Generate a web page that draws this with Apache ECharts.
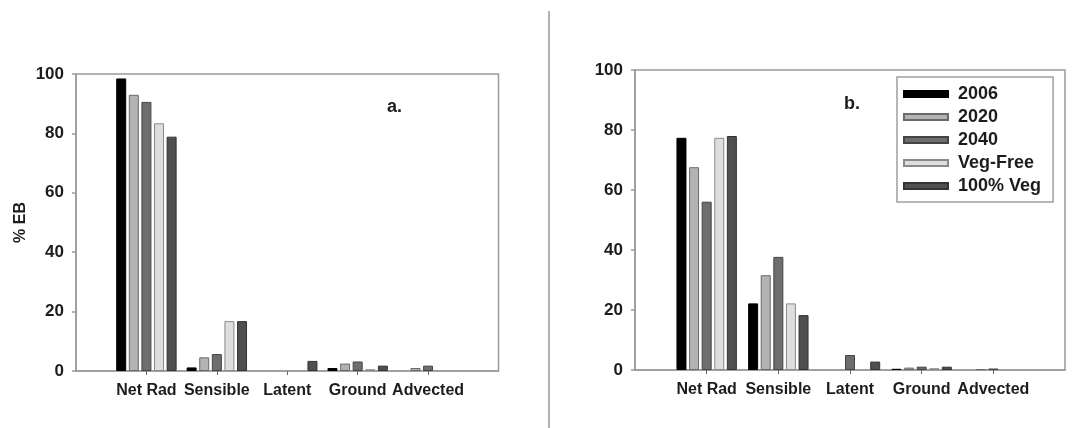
<!DOCTYPE html>
<html>
<head>
<meta charset="utf-8">
<title>Energy balance components</title>
<script src="https://cdn.jsdelivr.net/npm/echarts@6/dist/echarts.min.js"></script>
<style>
  html, body { margin: 0; padding: 0; background: #ffffff; }
  #chart { width: 1092px; height: 428px; }
</style>
</head>
<body>
<div id="chart"></div>
<script>
// Energy balance terms shown on the x axis
const categories = ['Net Rad', 'Sensible', 'Latent', 'Ground', 'Advected'];
// Scenario names (legend order)
const scenarios = ['2006', '2020', '2040', 'Veg-Free', '100% Veg'];
// Y axis ticks
const yTicks = [0, 20, 40, 60, 80, 100];

// Panel a: % of energy balance per term, one array per scenario
const a2006    = [98.5, 1.2, 0.0, 1.0, 0.0];
const a2020    = [93.0, 4.6, 0.0, 2.5, 1.0];
const a2040    = [90.6, 5.7, 0.0, 3.2, 1.8];
const aVegFree = [83.4, 16.8, 0.0, 0.6, 0.0];
const aVeg100  = [78.9, 16.8, 3.4, 1.8, 0.0];

// Panel b
const b2006    = [77.4, 22.2, 0.0, 0.4, 0.0];
const b2020    = [67.6, 31.6, 0.0, 0.8, 0.3];
const b2040    = [56.1, 37.7, 5.0, 1.1, 0.5];
const bVegFree = [77.4, 22.2, 0.0, 0.6, 0.0];
const bVeg100  = [78.0, 18.3, 2.8, 1.1, 0.0];

const panelA = [a2006, a2020, a2040, aVegFree, aVeg100];
const panelB = [b2006, b2020, b2040, bVegFree, bVeg100];

const fills = ['#000000', '#b3b3b3', '#6e6e6e', '#dedede', '#4f4f4f'];
const borders = ['#000000', '#6a6a6a', '#444444', '#8a8a8a', '#333333'];

// Category slots run from 0 to 6 with the terms at 1..5;
// zero-height bars are left empty so no outline is drawn for them
const slots = [''].concat(categories, ['']);
const pad = arr => [null].concat(arr.map(v => (v === 0 ? null : v)), [null]);

const axisGray = '#9a9a9a';
const textColor = '#1c1c1c';
const fontFamily = '"Liberation Sans", Arial, sans-serif';

function xAxisFor(gridIndex) {
  return {
    type: 'category',
    gridIndex,
    data: slots,
    boundaryGap: false,
    axisLine: { lineStyle: { color: axisGray, width: 1.5 } },
    axisTick: {
      show: true, length: 4, inside: false,
      interval: (idx, val) => val !== '',
      lineStyle: { color: '#666', width: 1 }
    },
    axisLabel: {
      interval: 0, margin: 12,
      color: textColor, fontFamily, fontWeight: 'bold', fontSize: 16
    },
    splitLine: { show: false }
  };
}

function yAxisFor(gridIndex, name) {
  return {
    type: 'value',
    gridIndex,
    min: yTicks[0],
    max: yTicks[yTicks.length - 1],
    interval: yTicks[1] - yTicks[0],
    name,
    nameLocation: 'middle',
    nameGap: 47,
    nameTextStyle: { color: textColor, fontFamily, fontWeight: 'bold', fontSize: 16 },
    axisLine: { show: true, lineStyle: { color: axisGray, width: 1.5 } },
    axisTick: { show: true, length: 4, lineStyle: { color: axisGray, width: 1.5 } },
    axisLabel: {
      margin: 12, color: textColor, fontFamily, fontWeight: 'bold', fontSize: 17
    },
    splitLine: { show: false }
  };
}

const series = [];
[panelA, panelB].forEach((panel, p) => {
  panel.forEach((vals, i) => {
    series.push({
      type: 'bar',
      name: scenarios[i],
      xAxisIndex: p,
      yAxisIndex: p,
      data: pad(vals),
      barWidth: 10,
      barGap: '26%',
      itemStyle: { color: fills[i], borderColor: borders[i], borderWidth: 1 },
      emphasis: { disabled: true }
    });
  });
});

const chart = echarts.init(document.getElementById('chart'), null, { renderer: 'canvas' });
chart.setOption({
  animation: false,
  backgroundColor: '#ffffff',
  grid: [
    { left: 76, top: 74, width: 422.5, height: 297, show: true, borderColor: axisGray, borderWidth: 1.5, backgroundColor: 'transparent' },
    { left: 635, top: 70, width: 430, height: 300, show: true, borderColor: axisGray, borderWidth: 1.5, backgroundColor: 'transparent' }
  ],
  xAxis: [xAxisFor(0), xAxisFor(1)],
  yAxis: [yAxisFor(0, '% EB'), yAxisFor(1, '')],
  legend: {
    data: scenarios,
    orient: 'vertical',
    left: 897,
    top: 77,
    padding: [8, 12, 7, 6],
    itemGap: 5,
    itemWidth: 44,
    itemHeight: 6,
    icon: 'rect',
    borderColor: '#a0a0a0',
    borderWidth: 1.5,
    selectedMode: false,
    textStyle: {
      color: textColor, fontFamily, fontWeight: 'bold', fontSize: 18,
      lineHeight: 18, padding: [0, 0, 0, 5]
    }
  },
  graphic: [
    {
      type: 'text', left: 387, top: 98,
      style: { text: 'a.', fill: textColor, font: 'bold 18px "Liberation Sans", Arial, sans-serif' }
    },
    {
      type: 'text', left: 844, top: 95,
      style: { text: 'b.', fill: textColor, font: 'bold 18px "Liberation Sans", Arial, sans-serif' }
    },
    {
      type: 'line',
      shape: { x1: 549, y1: 11, x2: 549, y2: 428 },
      style: { stroke: '#b0b0b0', lineWidth: 2 }
    }
  ],
  series
});
</script>
</body>
</html>
